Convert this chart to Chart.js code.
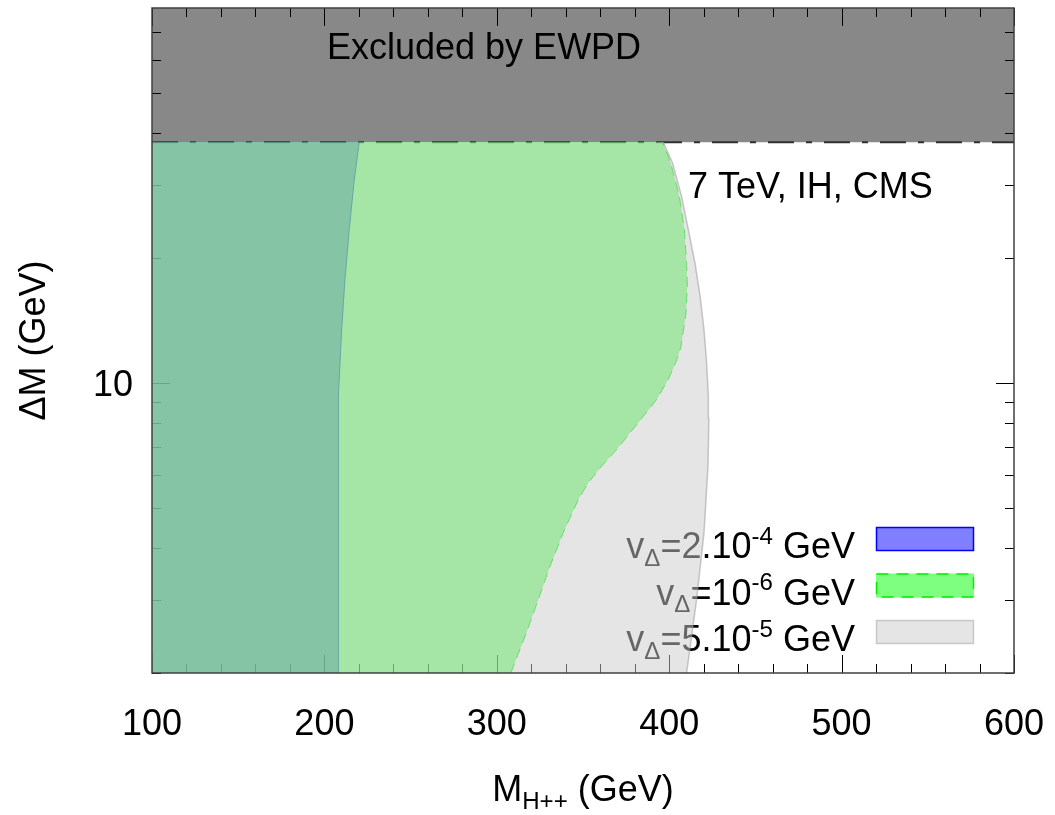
<!DOCTYPE html>
<html>
<head>
<meta charset="utf-8">
<title>Delta M vs M_H++</title>
<script src="https://cdn.jsdelivr.net/npm/chart.js@4.4.1/dist/chart.umd.min.js"></script>
<style>
  html, body { margin: 0; padding: 0; background: #fff; }
</style>
</head>
<body>
<canvas id="chart" width="1055" height="815"></canvas>
<script>
// axis ranges and ticks
const xRange = [100, 600];
const yRange = [2, 80];
const xTickLabels = [100, 200, 300, 400, 500, 600];
const xMinorStep = 20;
const yTickLabels = [10];
const yMinorTicks = [2, 3, 4, 5, 6, 7, 8, 9, 20, 30, 40, 50, 60, 70];

// EWPD bound on Delta M (GeV)
const ewpdLimit = 38;

// contour edges, Delta M (GeV) and M_H++ (GeV)
const blueDM = [2, 6.4, 9.3, 13.4, 17.7, 23.4, 30.8, 38];
const blueM  = [208.3, 207.9, 208.3, 210.0, 211.9, 214.4, 217.3, 220.2];

const greenDM = [2, 2.51, 3.01, 3.62, 4.36, 5.24, 5.75, 6.30, 6.91, 7.58, 8.31, 9.12, 10.2, 11.2, 12.2, 14.7, 17.1, 19.4, 23.4, 28.1, 33.8, 38];
const greenM  = [308.1, 317.3, 324.1, 330.9, 338.6, 347.3, 353.1, 360.8, 369.5, 377.3, 385.0, 392.7, 399.5, 403.8, 406.8, 409.7, 410.5, 410.1, 408.8, 405.9, 400.9, 396.2];

const grayDM = [2, 3.01, 4.36, 6.30, 8.2, 9.3, 11.2, 13.4, 16.2, 19.4, 23.4, 28.1, 33.8, 38];
const grayM  = [410.1, 415.9, 420.2, 422.5, 423.0, 422.7, 421.7, 420.2, 417.9, 415.0, 411.1, 407.2, 402.0, 396.6];

const legendLabels = ['v_{Δ}=2.10^{-4} GeV', 'v_{Δ}=10^{-6} GeV', 'v_{Δ}=5.10^{-5} GeV'];
const xTitle = 'M_{H++} (GeV)';
const yTitle = 'ΔM (GeV)';

const FONT = "'Liberation Sans', Arial, sans-serif";

function pts(ms, dms) {
  return ms.map((m, i) => ({x: m, y: dms[i]}));
}
// closed area left of an edge (last point only widens the x span, zero area)
function region(ms, dms) {
  const top = dms[dms.length - 1];
  return [{x: xRange[0], y: top}, {x: xRange[0], y: dms[0]}]
    .concat(pts(ms, dms), [{x: Math.max(...ms), y: top}]);
}

// tiny enhanced-text: _{sub} and ^{sup}
function richText(ctx, str, x, y, size, align) {
  const parts = [];
  const re = /([_^])\{([^}]*)\}/g;
  let last = 0, m;
  while ((m = re.exec(str))) {
    if (m.index > last) parts.push({t: str.slice(last, m.index), s: size, dy: 0});
    parts.push({t: m[2], s: size * 0.67, dy: m[1] === '_' ? size * 0.22 : -size * 0.4});
    last = re.lastIndex;
  }
  if (last < str.length) parts.push({t: str.slice(last), s: size, dy: 0});
  let w = 0;
  parts.forEach(p => { ctx.font = p.s + 'px ' + FONT; p.w = ctx.measureText(p.t).width; w += p.w; });
  let cx = align === 'right' ? x - w : align === 'center' ? x - w / 2 : x;
  ctx.textAlign = 'left';
  ctx.textBaseline = 'alphabetic';
  parts.forEach(p => {
    ctx.font = p.s + 'px ' + FONT;
    ctx.fillText(p.t, cx, y + p.dy);
    cx += p.w;
  });
}

const fillBlue = 'rgba(0,0,255,0.5)';
const fillGreen = 'rgba(0,255,0,0.5)';
const fillGray = 'rgba(204,204,204,0.5)';

function drawTicks(chart) {
  const {ctx, chartArea: a, scales: {x, y}} = chart;
  ctx.save();
  ctx.strokeStyle = '#000';
  ctx.lineWidth = 1;
  ctx.beginPath();
  for (let v = xRange[0]; v <= xRange[1]; v += xMinorStep) {
    const px = Math.round(x.getPixelForValue(v)) + 0.5;
    const len = xTickLabels.includes(v) ? 18 : 9;
    ctx.moveTo(px, a.bottom); ctx.lineTo(px, a.bottom - len);
    ctx.moveTo(px, a.top); ctx.lineTo(px, a.top + len);
  }
  yTickLabels.concat(yMinorTicks).forEach(v => {
    const py = Math.round(y.getPixelForValue(v)) + 0.5;
    const len = yTickLabels.includes(v) ? 18 : 9;
    ctx.moveTo(a.left, py); ctx.lineTo(a.left + len, py);
    ctx.moveTo(a.right, py); ctx.lineTo(a.right - len, py);
  });
  ctx.stroke();
  ctx.restore();
}

function drawTickLabels(chart) {
  const {ctx, chartArea: a, scales: {x, y}} = chart;
  ctx.save();
  ctx.fillStyle = '#000';
  ctx.font = '36px ' + FONT;
  ctx.textBaseline = 'alphabetic';
  ctx.textAlign = 'center';
  xTickLabels.forEach(v => ctx.fillText(String(v), x.getPixelForValue(v), a.bottom + 62));
  ctx.textAlign = 'right';
  yTickLabels.forEach(v => ctx.fillText(String(v), a.left - 19, y.getPixelForValue(v) + 13));
  ctx.restore();
}

function drawLegend(chart) {
  const ctx = chart.ctx;
  const styles = [
    {fill: fillBlue, stroke: '#0000ff', dash: []},
    {fill: fillGreen, stroke: '#00ee00', dash: [12, 8]},
    {fill: fillGray, stroke: 'rgba(170,170,170,0.5)', dash: []}
  ];
  ctx.save();
  ctx.fillStyle = '#000';
  legendLabels.forEach((lab, i) => {
    const top = 527 + i * 46.5;
    richText(ctx, lab, 855, top + 31, 36, 'right');
    const st = styles[i];
    ctx.fillStyle = st.fill;
    ctx.fillRect(876, top, 98, 24);
    ctx.strokeStyle = st.stroke;
    ctx.lineWidth = 1.5;
    ctx.setLineDash(st.dash);
    ctx.strokeRect(876.5, top + 0.5, 97, 23);
    ctx.setLineDash([]);
    ctx.fillStyle = '#000';
  });
  ctx.restore();
}

const decor = {
  id: 'decor',
  afterDatasetDraw(chart, args) {
    // EWPD band is drawn first, ticks and key go between it and the areas
    if (args.index !== 0) return;
    drawTicks(chart);
    drawLegend(chart);
  },
  afterDatasetsDraw(chart) {
    const ctx = chart.ctx;
    ctx.save();
    ctx.fillStyle = '#000';
    richText(ctx, 'Excluded by EWPD', 327, 59, 36, 'left');
    richText(ctx, '7 TeV, IH, CMS', 688, 198, 36, 'left');
    ctx.restore();
  },
  afterDraw(chart) {
    const {ctx, chartArea: a} = chart;
    drawTickLabels(chart);
    ctx.save();
    ctx.strokeStyle = '#404040';
    ctx.lineWidth = 1.5;
    ctx.strokeRect(a.left, a.top, a.right - a.left, a.bottom - a.top);
    ctx.fillStyle = '#000';
    richText(ctx, xTitle, (a.left + a.right) / 2, 801, 36, 'center');
    ctx.translate(45, (a.top + a.bottom) / 2);
    ctx.rotate(-Math.PI / 2);
    richText(ctx, yTitle, 0, 0, 36, 'center');
    ctx.restore();
  }
};

const common = {pointRadius: 0, tension: 0};

new Chart(document.getElementById('chart'), {
  type: 'line',
  data: {
    datasets: [
      Object.assign({label: 'EWPD', data: [{x: xRange[0], y: ewpdLimit}, {x: xRange[1], y: ewpdLimit}],
        fill: 'end', backgroundColor: '#888888', borderColor: '#303030', borderWidth: 2,
        borderDash: [26, 12, 6, 12], order: 10}, common),
      Object.assign({label: 'blue area', data: region(blueM, blueDM), fill: 'shape',
        backgroundColor: fillBlue, borderWidth: 0, order: 9}, common),
      Object.assign({label: 'blue edge', data: pts(blueM, blueDM), fill: false,
        borderColor: '#0000ff', borderWidth: 1, order: 8}, common),
      Object.assign({label: 'green area', data: region(greenM, greenDM), fill: 'shape',
        backgroundColor: fillGreen, borderWidth: 0, order: 7}, common),
      Object.assign({label: 'green edge', data: pts(greenM, greenDM), fill: false,
        borderColor: '#00ee00', borderWidth: 1, borderDash: [10, 6], order: 6}, common),
      Object.assign({label: 'gray area', data: region(grayM, grayDM), fill: 'shape',
        backgroundColor: fillGray, borderWidth: 0, order: 5}, common),
      Object.assign({label: 'gray edge', data: pts(grayM, grayDM), fill: false,
        borderColor: 'rgba(150,150,150,0.5)', borderWidth: 1.5, order: 4}, common)
    ]
  },
  options: {
    responsive: false,
    animation: false,
    devicePixelRatio: 1,
    layout: {autoPadding: false, padding: {top: 8, right: 41, left: 0, bottom: 0}},
    plugins: {legend: {display: false}, tooltip: {enabled: false}},
    scales: {
      x: {
        type: 'linear', min: xRange[0], max: xRange[1],
        afterBuildTicks: s => { s.ticks = xTickLabels.map(v => ({value: v})); },
        afterFit: s => { s.height = 142; },
        grid: {display: false, drawTicks: false},
        border: {display: false},
        ticks: {display: false}
      },
      y: {
        type: 'logarithmic', min: yRange[0], max: yRange[1],
        afterBuildTicks: s => { s.ticks = yTickLabels.map(v => ({value: v})); },
        afterFit: s => { s.width = 152; },
        grid: {display: false, drawTicks: false},
        border: {display: false},
        ticks: {display: false}
      }
    }
  },
  plugins: [decor]
});
</script>
</body>
</html>
